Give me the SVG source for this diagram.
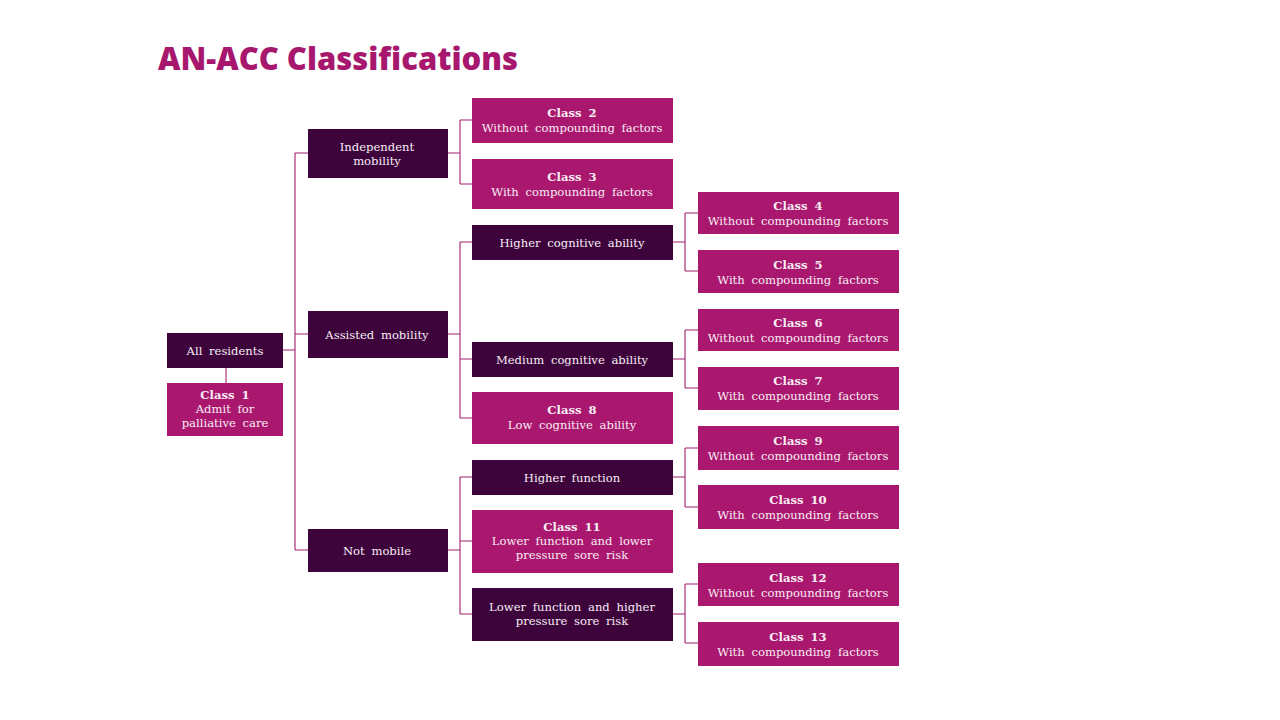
<svg xmlns="http://www.w3.org/2000/svg" width="1280" height="720" viewBox="0 0 1280 720">
<style>
.dark{fill:#3d043c}
.mag{fill:#aa176e}
.t{font-family:"DejaVu Serif",serif;font-size:11.6px;fill:#f7eef4;text-anchor:middle;word-spacing:3px}
.b{font-weight:bold}
.title{font-family:"Open Sans","Noto Sans",sans-serif;font-weight:800;font-size:31px;fill:#a8176e}
.c{stroke:#9e1f6c;stroke-width:1.1;fill:none}
</style>
<rect width="1280" height="720" fill="#ffffff"/>
<text class="title" x="158" y="70" textLength="360" lengthAdjust="spacingAndGlyphs">AN-ACC Classifications</text>
<g id="connectors">
<path class="c" d="M226 368V383"/>
<path class="c" d="M283 350H295M295 153V550M295 153H308M295 334H308M295 550H308"/>
<path class="c" d="M448 153H460M460 120V184M460 120H472M460 184H472"/>
<path class="c" d="M448 334H460M460 242V418M460 242H472M460 359H472M460 418H472"/>
<path class="c" d="M448 550H460M460 477V614M460 477H472M460 541H472M460 614H472"/>
<path class="c" d="M673 242H685M685 213V271M685 213H698M685 271H698"/>
<path class="c" d="M673 359H685M685 330V388M685 330H698M685 388H698"/>
<path class="c" d="M673 477H685M685 448V507M685 448H698M685 507H698"/>
<path class="c" d="M673 614H685M685 584V643M685 584H698M685 643H698"/>
</g>
<g id="all-residents"><rect class="dark" x="167" y="333" width="116" height="35"/><text class="t" x="225" y="355">All residents</text></g>
<g id="class1"><rect class="mag" x="167" y="383" width="116" height="53"/><text class="t" x="225" y="399"><tspan class="b">Class 1</tspan><tspan x="225" dy="14">Admit for</tspan><tspan x="225" dy="14">palliative care</tspan></text></g>
<g id="independent"><rect class="dark" x="308" y="129" width="140" height="49"/><text class="t" x="377" y="151">Independent<tspan x="377" dy="14">mobility</tspan></text></g>
<g id="assisted"><rect class="dark" x="308" y="311" width="140" height="47"/><text class="t" x="377" y="339">Assisted mobility</text></g>
<g id="notmobile"><rect class="dark" x="308" y="529" width="140" height="43"/><text class="t" x="377" y="555">Not mobile</text></g>
<g id="class2"><rect class="mag" x="472" y="98" width="201" height="45"/><text class="t" x="572" y="117"><tspan class="b">Class 2</tspan><tspan x="572" dy="14.5">Without compounding factors</tspan></text></g>
<g id="class3"><rect class="mag" x="472" y="159" width="201" height="50"/><text class="t" x="572" y="181"><tspan class="b">Class 3</tspan><tspan x="572" dy="14.5">With compounding factors</tspan></text></g>
<g id="higher-cog"><rect class="dark" x="472" y="225" width="201" height="35"/><text class="t" x="572" y="247">Higher cognitive ability</text></g>
<g id="medium-cog"><rect class="dark" x="472" y="342" width="201" height="35"/><text class="t" x="572" y="364">Medium cognitive ability</text></g>
<g id="class8"><rect class="mag" x="472" y="392" width="201" height="52"/><text class="t" x="572" y="414"><tspan class="b">Class 8</tspan><tspan x="572" dy="14.5">Low cognitive ability</tspan></text></g>
<g id="higher-func"><rect class="dark" x="472" y="460" width="201" height="35"/><text class="t" x="572" y="482">Higher function</text></g>
<g id="class11"><rect class="mag" x="472" y="510" width="201" height="63"/><text class="t" x="572" y="531"><tspan class="b">Class 11</tspan><tspan x="572" dy="14">Lower function and lower</tspan><tspan x="572" dy="14">pressure sore risk</tspan></text></g>
<g id="lower-func-higher"><rect class="dark" x="472" y="588" width="201" height="53"/><text class="t" x="572" y="611">Lower function and higher<tspan x="572" dy="14">pressure sore risk</tspan></text></g>
<g id="class4"><rect class="mag" x="698" y="192" width="201" height="42"/><text class="t" x="798" y="210"><tspan class="b">Class 4</tspan><tspan x="798" dy="14.5">Without compounding factors</tspan></text></g>
<g id="class5"><rect class="mag" x="698" y="250" width="201" height="43"/><text class="t" x="798" y="269"><tspan class="b">Class 5</tspan><tspan x="798" dy="14.5">With compounding factors</tspan></text></g>
<g id="class6"><rect class="mag" x="698" y="309" width="201" height="42"/><text class="t" x="798" y="327"><tspan class="b">Class 6</tspan><tspan x="798" dy="14.5">Without compounding factors</tspan></text></g>
<g id="class7"><rect class="mag" x="698" y="367" width="201" height="43"/><text class="t" x="798" y="385"><tspan class="b">Class 7</tspan><tspan x="798" dy="14.5">With compounding factors</tspan></text></g>
<g id="class9"><rect class="mag" x="698" y="426" width="201" height="44"/><text class="t" x="798" y="445"><tspan class="b">Class 9</tspan><tspan x="798" dy="14.5">Without compounding factors</tspan></text></g>
<g id="class10"><rect class="mag" x="698" y="485" width="201" height="44"/><text class="t" x="798" y="504"><tspan class="b">Class 10</tspan><tspan x="798" dy="14.5">With compounding factors</tspan></text></g>
<g id="class12"><rect class="mag" x="698" y="563" width="201" height="43"/><text class="t" x="798" y="582"><tspan class="b">Class 12</tspan><tspan x="798" dy="14.5">Without compounding factors</tspan></text></g>
<g id="class13"><rect class="mag" x="698" y="622" width="201" height="44"/><text class="t" x="798" y="641"><tspan class="b">Class 13</tspan><tspan x="798" dy="14.5">With compounding factors</tspan></text></g>
</svg>
